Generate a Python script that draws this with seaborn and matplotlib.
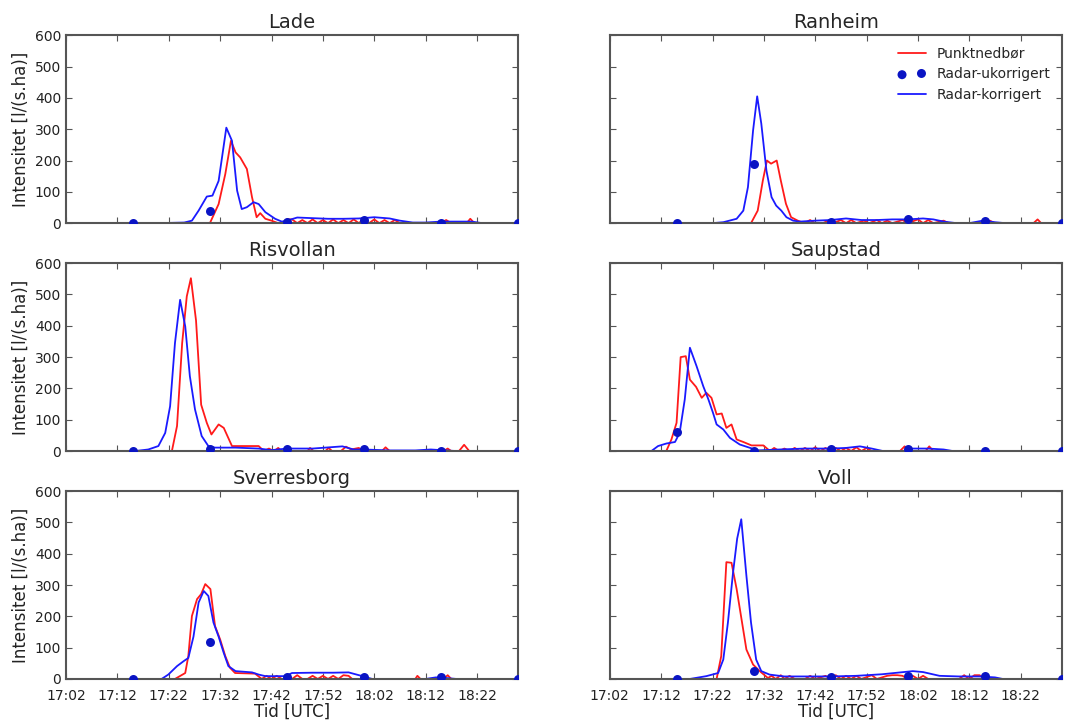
import matplotlib
matplotlib.use("Agg")
import matplotlib.pyplot as plt
import seaborn as sns
import pandas as pd

# ---------------- data (minutes after 17:00) ----------------
stations = ["Lade", "Ranheim", "Risvollan", "Saupstad", "Sverresborg", "Voll"]

dot_t = [15, 30, 45, 60, 75, 90]

# Lade
lade_red_t = [2, 30, 31.7, 33, 34.1, 35, 35.9, 37.2, 38.2, 39.1, 39.8, 40.8, 42, 43.3, 44, 45, 46, 47, 48, 49, 50, 51, 52, 53, 54, 55, 56, 57, 58, 59, 60, 61, 62, 63, 64, 65, 66, 67, 75, 76, 77, 80, 80.7, 81.5, 90]
lade_red_v = [0, 0, 61, 157, 263, 226, 210, 173, 83, 19, 32, 14, 8, 0, 0, 12, 12, 0, 10, 0, 12, 0, 10, 0, 12, 0, 10, 0, 12, 0, 14, 0, 12, 0, 10, 0, 10, 0, 0, 10, 0, 0, 14, 0, 0]
lade_blue_t = [2, 20, 25, 26.5, 27.8, 29.4, 30.5, 31.7, 33.2, 34.3, 35.3, 36.2, 37.2, 38.5, 39.5, 40.8, 42.7, 44, 45, 47, 50, 53, 56, 59, 62, 65, 67, 69.5, 72, 75, 78, 81, 83, 90]
lade_blue_v = [0, 0, 2, 8, 40, 85, 88, 135, 305, 263, 104, 45, 51, 67, 61, 35, 14, 5, 8, 18, 16, 14, 14, 15, 19, 15, 8, 2, 2, 5, 5, 5, 0, 0]
lade_dot_v = [0, 40, 5, 10, 0, 0]

# Ranheim
ranheim_red_t = [2, 29.5, 30.8, 31.8, 32.6, 33.4, 34.5, 35.3, 36.3, 37.3, 38.6, 39.9, 41, 42, 43.5, 44.5, 45.5, 47, 48, 49, 50, 51.5, 52.5, 54, 55, 56, 57, 59, 60, 62, 63, 64, 65, 67, 68, 75, 76, 77, 84.5, 85.3, 86, 90]
ranheim_red_v = [0, 0, 40, 136, 200, 190, 200, 136, 62, 19, 8, 0, 10, 0, 0, 8, 0, 10, 0, 10, 0, 8, 0, 10, 0, 8, 0, 10, 0, 12, 0, 10, 0, 8, 0, 0, 8, 0, 0, 12, 0, 0]
ranheim_blue_t = [2, 22, 24.1, 26.7, 28, 28.9, 29.9, 30.7, 31.5, 32.5, 33.5, 34.4, 35.4, 36.4, 37.7, 39, 42, 45, 48, 51, 54, 57, 60, 63, 65, 67, 69.5, 72, 74.6, 77, 79, 90]
ranheim_blue_v = [0, 0, 3, 14, 40, 115, 296, 405, 318, 168, 83, 56, 40, 19, 8, 5, 8, 10, 15, 10, 10, 12, 12, 15, 12, 5, 0, 0, 8, 3, 0, 0]
ranheim_dot_v = [0, 190, 5, 12, 8, 0]

# Risvollan
risvollan_red_t = [2, 22.6, 23.6, 24.6, 25.5, 26.3, 27.3, 28.3, 29.4, 30.3, 31.7, 32.7, 34.3, 39.5, 40.5, 41.5, 42.5, 43.3, 44, 49, 49.5, 50.2, 52.5, 53.1, 53.8, 55.5, 56.5, 57.5, 59, 59.7, 63.5, 64.2, 65, 75.5, 76.3, 77, 78.5, 79.5, 80.5, 90]
risvollan_red_v = [0, 0, 80, 345, 494, 552, 417, 148, 90, 53, 85, 74, 16, 16, 0, 8, 0, 10, 0, 0, 10, 0, 0, 10, 0, 0, 14, 5, 10, 0, 0, 12, 0, 0, 8, 0, 0, 20, 0, 0]
risvollan_blue_t = [2, 15.4, 18, 19.97, 21.3, 22.25, 23.2, 24.2, 25.2, 26.1, 27.1, 28.4, 29.7, 31, 35, 39.5, 42, 45, 50, 55.8, 58, 60, 65, 70, 73, 76, 78, 90]
risvollan_blue_v = [0, 0, 5, 16, 58, 143, 345, 483, 398, 239, 133, 48, 16, 11, 11, 8, 3, 8, 8, 15, 5, 5, 2, 2, 5, 2, 0, 0]
risvollan_dot_v = [0, 8, 8, 5, 0, 0]

# Saupstad
saupstad_red_t = [2, 13, 14, 15, 15.8, 16.8, 17.6, 18.8, 19.9, 20.8, 21.8, 22.8, 23.8, 24.7, 25.7, 26.7, 28, 29.6, 31.9, 33.2, 34, 35, 36, 37, 38, 39, 40, 41, 42, 43, 44, 45, 46, 47, 48, 49, 50, 51, 52, 53, 58.5, 59.4, 60.2, 63.5, 64.2, 65, 90]
saupstad_red_v = [0, 0, 37, 90, 300, 303, 228, 205, 170, 186, 170, 117, 120, 74, 85, 37, 29, 18, 18, 0, 10, 0, 8, 0, 10, 0, 10, 0, 12, 0, 10, 0, 10, 0, 10, 0, 12, 0, 10, 0, 0, 15, 0, 0, 15, 0, 0]
saupstad_blue_t = [2, 10.1, 11.4, 13, 14.7, 15.6, 16.6, 17.6, 18.9, 20.2, 21.2, 22.1, 22.8, 24.1, 25.4, 27.3, 29.9, 30.6, 35, 40, 45, 48, 50.7, 53, 55.2, 59, 61, 64, 67, 68.8, 90]
saupstad_blue_v = [0, 0, 16, 24, 29, 58, 165, 330, 271, 207, 165, 122, 85, 69, 42, 21, 7, 2, 5, 8, 8, 10, 15, 8, 0, 0, 8, 8, 5, 0, 0]
saupstad_dot_v = [60, 0, 8, 5, 0, 0]

# Sverresborg
sverresborg_red_t = [2, 23.2, 25.2, 25.8, 26.5, 27.5, 28.3, 29.1, 30.1, 31, 32, 33, 33.9, 34.9, 38.8, 40.1, 41, 42, 43, 44, 46, 47, 48, 49, 50, 51, 52, 53, 54, 55, 56, 57, 57.7, 70, 70.4, 71, 75.5, 76.3, 77, 90]
sverresborg_red_v = [0, 0, 19, 73, 201, 255, 271, 303, 287, 169, 126, 73, 36, 19, 17, 0, 10, 0, 10, 0, 0, 12, 0, 0, 10, 0, 10, 0, 10, 0, 12, 10, 0, 0, 10, 0, 0, 12, 0, 0]
sverresborg_blue_t = [2, 20.6, 21.9, 23.6, 24.9, 25.8, 26.8, 27.8, 28.8, 29.7, 30.7, 31.7, 32.7, 33.6, 35, 38.2, 39.5, 40.8, 44.7, 46, 50, 54, 57, 59.7, 61.6, 72, 74, 76, 78, 90]
sverresborg_blue_v = [0, 0, 14, 41, 57, 67, 135, 244, 281, 265, 180, 135, 83, 41, 25, 21, 14, 9, 9, 19, 20, 20, 21, 9, 0, 0, 5, 3, 0, 0]
sverresborg_dot_v = [0, 118, 5, 5, 5, 0]

# Voll
voll_red_t = [2, 22.8, 23.7, 24.7, 25.7, 26.7, 27.6, 28.6, 29.9, 31.2, 32.8, 33.5, 34.3, 35.3, 36, 37, 38, 40, 41, 42, 44, 45, 46, 47, 48, 49, 50, 51, 53, 54, 56, 57, 58, 59, 60, 61, 62, 63, 64, 70, 71, 72, 73, 74, 75, 90]
voll_red_v = [0, 0, 73, 373, 371, 287, 196, 94, 46, 25, 3, 10, 0, 12, 0, 10, 0, 0, 10, 0, 10, 0, 12, 0, 10, 0, 10, 0, 12, 0, 10, 12, 12, 10, 0, 10, 0, 10, 0, 0, 12, 0, 12, 12, 0, 0]
voll_blue_t = [2, 17.6, 20.8, 23.1, 24.1, 25, 26, 26.8, 27.6, 28.6, 29.5, 30.5, 31.5, 33.1, 36, 40, 45, 50, 55, 58, 61, 63, 66.2, 70, 74, 77, 78.5, 90]
voll_blue_v = [0, 0, 9, 19, 62, 180, 340, 448, 510, 330, 180, 62, 25, 14, 8, 8, 8, 10, 15, 20, 25, 22, 10, 8, 8, 5, 0, 0]
voll_dot_v = [0, 25, 5, 10, 8, 0]

tick_pos = [2, 12, 22, 32, 42, 52, 62, 72, 82]
tick_labels = ["17:02", "17:12", "17:22", "17:32", "17:42", "17:52", "18:02", "18:12", "18:22"]
y_ticks = [0, 100, 200, 300, 400, 500, 600]

series = {
    "Lade": (lade_red_t, lade_red_v, lade_blue_t, lade_blue_v, lade_dot_v),
    "Ranheim": (ranheim_red_t, ranheim_red_v, ranheim_blue_t, ranheim_blue_v, ranheim_dot_v),
    "Risvollan": (risvollan_red_t, risvollan_red_v, risvollan_blue_t, risvollan_blue_v, risvollan_dot_v),
    "Saupstad": (saupstad_red_t, saupstad_red_v, saupstad_blue_t, saupstad_blue_v, saupstad_dot_v),
    "Sverresborg": (sverresborg_red_t, sverresborg_red_v, sverresborg_blue_t, sverresborg_blue_v, sverresborg_dot_v),
    "Voll": (voll_red_t, voll_red_v, voll_blue_t, voll_blue_v, voll_dot_v),
}

# ---------------- style ----------------
sns.set_style("white", {
    "xtick.direction": "in", "ytick.direction": "in",
    "axes.edgecolor": "#555555",
})
plt.rcParams["font.family"] = ["DejaVu Sans"]
plt.rcParams["axes.linewidth"] = 1.5

RED = "#ff1a1a"
BLUE = "#1a1aff"
DOT = "#0a14c4"

fig, axes = plt.subplots(3, 2, figsize=(10.66, 7.2), dpi=100, sharex=True, sharey=True)
fig.subplots_adjust(left=0.062, right=0.996, bottom=0.057, top=0.951, wspace=0.203, hspace=0.213)

for ax, name in zip(axes.flat, stations):
    rt, rv, bt, bv, dv = series[name]
    sns.lineplot(x=rt, y=rv, ax=ax, color=RED, lw=1.3, estimator=None, label="Punktnedbør", legend=False)
    sns.lineplot(x=bt, y=bv, ax=ax, color=BLUE, lw=1.3, estimator=None, label="Radar-korrigert", legend=False)
    sns.scatterplot(x=dot_t, y=dv, ax=ax, color=DOT, s=42, linewidth=0, zorder=3,
                    label="Radar-ukorrigert", legend=False)
    ax.set_title(name, fontsize=14, pad=5)
    ax.set_xlim(2, 90)
    ax.set_ylim(0, 600)
    ax.set_xticks(tick_pos)
    ax.set_xticklabels(tick_labels)
    ax.set_yticks(y_ticks)
    ax.tick_params(axis="both", which="both", direction="in", top=True, right=True,
                   bottom=True, left=True, length=4, width=0.8, color="#555555",
                   labelsize=10, labelcolor="#222222")
    ax.tick_params(axis="x", pad=7)
    for sp in ax.spines.values():
        sp.set_visible(True)
        sp.set_color("#555555")
        sp.set_linewidth(1.5)
    ax.set_xlabel("")
    ax.set_ylabel("")

for ax in axes[:, 0]:
    ax.set_ylabel("Intensitet [l/(s.ha)]", fontsize=12, color="#222222")
for ax in axes[:, 1]:
    ax.tick_params(labelleft=False)
for ax in axes[-1, :]:
    ax.set_xlabel("Tid [UTC]", fontsize=12, color="#222222", labelpad=0)
for ax in axes[:-1, :].flat:
    ax.tick_params(labelbottom=False)

# legend in Ranheim
ax_leg = axes[0, 1]
h, l = ax_leg.get_legend_handles_labels()
order = [l.index("Punktnedbør"), l.index("Radar-ukorrigert"), l.index("Radar-korrigert")]
ax_leg.legend([h[i] for i in order], [l[i] for i in order], loc="upper right",
              frameon=False, fontsize=10, scatterpoints=2, handlelength=2.0,
              borderaxespad=0.4, labelspacing=0.5)

fig.savefig("out.png", dpi=100)
